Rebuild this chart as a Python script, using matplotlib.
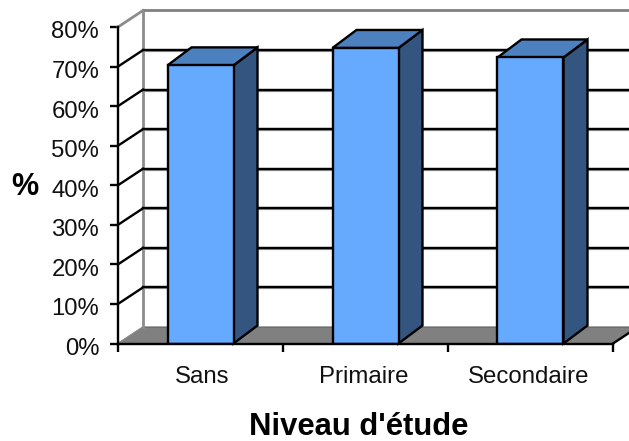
#!/usr/bin/env python3
"""Bar chart with an Excel style 3D look, drawn in 2D with sheared polygons."""

import matplotlib
matplotlib.use("Agg")
import matplotlib.pyplot as plt
from matplotlib.patches import Polygon
from matplotlib.transforms import ScaledTranslation

categories = ["Sans", "Primaire", "Secondaire"]
values = [70.3, 74.7, 72.3]
y_ticks = [0, 10, 20, 30, 40, 50, 60, 70, 80]

# depth of the fake 3D box, in data units
DEPTH_X = 25 / 165
DEPTH_Y = 16.5 / 39.56
BAR_DEPTH_X = 24 / 165
BAR_DEPTH_Y = 18 / 39.56
BAR_W = 0.4
LW = 1.7

plt.rcParams["font.family"] = ["Liberation Sans", "DejaVu Sans"]

fig = plt.figure(figsize=(6.29, 4.41), dpi=100)
ax = fig.add_axes([118 / 629, (441 - 343.5) / 441, 495 / 629, 316.5 / 441])
ax.set_xlim(0, 3)
ax.set_ylim(0, 80)
ax.patch.set_alpha(0)

# floor
ax.add_patch(Polygon([(0, 0), (3, 0), (3 + DEPTH_X, DEPTH_Y * 10), (DEPTH_X, DEPTH_Y * 10)],
                     closed=True, fc="#808080", ec="#5f5f5f", lw=0.8, clip_on=False, zorder=1))
ax.plot([3, 3 + DEPTH_X], [0, DEPTH_Y * 10], color="black", lw=LW, clip_on=False, zorder=2)

# back wall and side wall lines
ax.plot([DEPTH_X, DEPTH_X], [DEPTH_Y * 10, 80 + DEPTH_Y * 10], color="#8c8c8c", lw=LW + 0.3,
        clip_on=False, zorder=2)
ax.plot([DEPTH_X, 3 + DEPTH_X], [80 + DEPTH_Y * 10] * 2, color="#808080", lw=LW + 0.3,
        clip_on=False, zorder=2)
ax.plot([0, DEPTH_X], [80, 80 + DEPTH_Y * 10], color="#8c8c8c", lw=LW + 0.3, clip_on=False, zorder=2)
ax.plot([0, DEPTH_X], [0, DEPTH_Y * 10], color="#8c8c8c", lw=1, clip_on=False, zorder=2)

for t in y_ticks[1:-1]:
    y = t + DEPTH_Y * 10
    ax.plot([DEPTH_X, 3 + DEPTH_X], [y, y], color="#9a9a9a", lw=LW + 0.6, clip_on=False, zorder=2.5)
    ax.plot([DEPTH_X, 3 + DEPTH_X], [y, y], color="black", lw=LW, clip_on=False, zorder=3)
    ax.plot([0, DEPTH_X], [t, y], color="black", lw=LW, clip_on=False, zorder=3)

# bars: side, top, then front
for i, v in enumerate(values):
    x0 = i + 0.5 - BAR_W / 2
    x1 = i + 0.5 + BAR_W / 2
    dx = BAR_DEPTH_X
    dy = BAR_DEPTH_Y * 10
    side = [(x1, 0), (x1 + dx, dy), (x1 + dx, v + dy), (x1, v)]
    top = [(x0, v), (x1, v), (x1 + dx, v + dy), (x0 + dx, v + dy)]
    ax.add_patch(Polygon(side, closed=True, fc="#33557F", ec="black", lw=LW, clip_on=False, zorder=4))
    ax.add_patch(Polygon(top, closed=True, fc="#4D80BF", ec="black", lw=LW, clip_on=False, zorder=4))
    ax.bar(i + 0.5, v, BAR_W, color="#66AAFF", edgecolor="black", linewidth=LW, zorder=5)

for s in ("top", "right"):
    ax.spines[s].set_visible(False)
for s in ("left", "bottom"):
    ax.spines[s].set_linewidth(LW)
    ax.spines[s].set_zorder(6)

ax.set_yticks(y_ticks)
ax.set_yticklabels([f"{t}%" for t in y_ticks], fontsize=17.2, color="#111111")
ax.set_xticks([0, 1, 2, 3])
ax.set_xticklabels([])
ax.set_xticks([0.51, 1.49, 2.49], minor=True)
ax.set_xticklabels(categories, minor=True, fontsize=17.3, color="#111111")
ax.tick_params(axis="x", which="minor", length=0, pad=16)
ax.tick_params(axis="x", which="major", length=5.5, width=LW)
ax.tick_params(axis="y", length=5.5, width=LW, pad=8)

# tick labels in the reference sit a little under their ticks
shift_down = ScaledTranslation(0, -3 / 100, fig.dpi_scale_trans)
for lab in ax.get_yticklabels():
    lab.set_transform(lab.get_transform() + shift_down)

fig.text(25 / 629, 1 - 187 / 441, "%", fontsize=22, fontweight="bold", ha="center", va="center")
fig.text(358.5 / 629, 1 - 427 / 441, "Niveau d'étude", fontsize=22.3, fontweight="bold",
         ha="center", va="center")

fig.savefig("out.png", dpi=100)
